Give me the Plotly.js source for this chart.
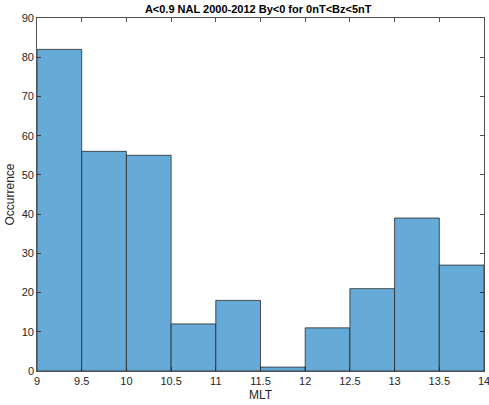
<!DOCTYPE html>
<html><head><meta charset="utf-8">
<script src="https://cdn.plot.ly/plotly-3.0.1.min.js"></script>
<style>html,body{margin:0;padding:0;background:#fff}#c{width:489px;height:405px}</style>
</head><body><div id="c"></div>
<script>
const binStarts = [9, 9.5, 10, 10.5, 11, 11.5, 12, 12.5, 13, 13.5];
const binWidth = 0.5;
const counts = [82, 56, 55, 12, 18, 1, 11, 21, 39, 27];
const xTicks = [9, 9.5, 10, 10.5, 11, 11.5, 12, 12.5, 13, 13.5, 14];
const yTicks = [0, 10, 20, 30, 40, 50, 60, 70, 80, 90];

const trace = {
  type: 'bar',
  x: binStarts.map(s => s + binWidth / 2),
  y: counts,
  width: binStarts.map(() => binWidth),
  marker: {color: 'rgb(102,170,215)', line: {color: 'rgb(40,40,40)', width: 0.8}},
  hoverinfo: 'none'
};
const font = {family: 'Liberation Sans, Arial, sans-serif', size: 11, color: '#262626'};
const layout = {
  width: 489, height: 405,
  margin: {l: 37, r: 5, t: 18, b: 34},
  paper_bgcolor: '#fff', plot_bgcolor: '#fff',
  font: font,
  showlegend: false,
  bargap: 0,
  title: {text: '<b>A<0.9 NAL 2000-2012 By<0 for 0nT<Bz<5nT</b>', x: 0.528, xanchor: 'center', y: 0.988, yanchor: 'top', font: {family: font.family, size: 11, color: '#000'}},
  xaxis: {
    range: [9, 14], tickvals: xTicks, ticktext: xTicks.map(String),
    ticks: 'inside', ticklen: 4, tickcolor: '#262626', tickwidth: 0.8,
    showline: true, linecolor: '#262626', linewidth: 0.8, mirror: 'allticks',
    showgrid: false, zeroline: false, ticklabeloverflow: 'allow',
    tickfont: {size: 11, color: '#262626'},
    title: {text: 'MLT', font: {size: 12, color: '#262626'}, standoff: 4}
  },
  yaxis: {
    range: [0, 90], tickvals: yTicks,
    ticks: 'inside', ticklen: 4, tickcolor: '#262626', tickwidth: 0.8,
    showline: true, linecolor: '#262626', linewidth: 0.8, mirror: 'allticks',
    showgrid: false, zeroline: false, ticklabeloverflow: 'allow',
    tickfont: {size: 11, color: '#262626'},
    title: {text: 'Occurrence', font: {size: 12, color: '#262626'}, standoff: 4}
  }
};
Plotly.newPlot('c', [trace], layout, {displayModeBar: false, staticPlot: true});
</script></body></html>
